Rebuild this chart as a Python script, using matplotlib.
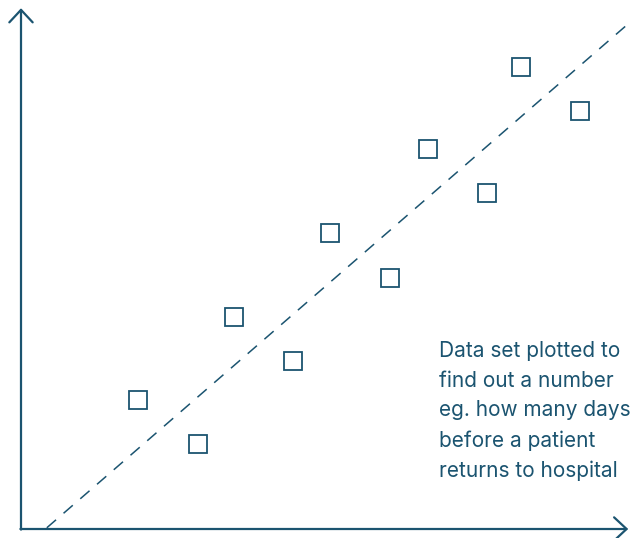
import matplotlib.pyplot as plt

# readings (arbitrary units, origin at the axis corner)
x_vals = [1.95, 2.95, 3.55, 4.53, 5.15, 6.15, 6.78, 7.77, 8.33, 9.32]
y_vals = [2.15, 1.42, 3.53, 2.80, 4.93, 4.18, 6.33, 5.60, 7.70, 6.97]
trend_x = [0.43, 10.12]
trend_y = [0.02, 8.42]
note = "Data set plotted to\nfind out a number\neg. how many days\nbefore a patient\nreturns to hospital"

col = '#1b5470'

fig = plt.figure(figsize=(6.35, 5.38), dpi=100)
ax = fig.add_axes([0, 0, 1, 1])
ax.set_xlim(-0.35, 10.233)
ax.set_ylim(-0.15, 8.817)
ax.axis('off')

# axes with open arrowheads
arrow = dict(arrowstyle='->,head_length=0.45,head_width=0.42', color=col, lw=1.6,
             mutation_scale=20, shrinkA=0, shrinkB=0)
ax.annotate('', xy=(0, 8.68), xytext=(0, -0.01), arrowprops=arrow)
ax.annotate('', xy=(10.12, 0), xytext=(-0.01, 0), arrowprops=arrow)

ax.plot(trend_x, trend_y, color=col, lw=1.1, dashes=(8, 6.5))
ax.plot(x_vals, y_vals, 's', ms=13.5, mfc='white', mec=col, mew=1.3, ls='none')

ax.text(6.97, 3.13, note, color=col, fontsize=15.0, family=['Inter', 'DejaVu Sans'],
        ha='left', va='top', linespacing=1.6)

fig.savefig('out.png', dpi=100)
